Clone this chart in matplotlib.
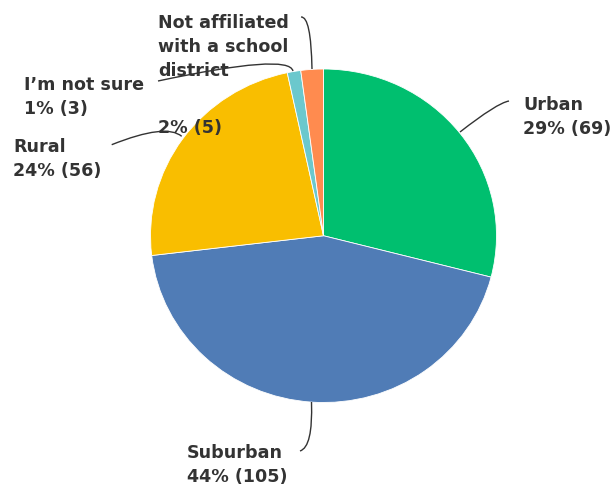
import matplotlib
matplotlib.use("Agg")
import matplotlib.pyplot as plt
from matplotlib.path import Path
from matplotlib.patches import PathPatch

categories = ["Urban", "Suburban", "Rural", "I\u2019m not sure", "Not affiliated\nwith a school\ndistrict"]
counts = [69, 105, 56, 3, 5]
percents = ["29%", "44%", "24%", "1%", "2%"]
colors = ["#00BF6F", "#507CB6", "#F9BE00", "#6BC8CD", "#FF8B4F"]

W, H = 613, 489
fig = plt.figure(figsize=(W / 100, H / 100), dpi=100)

# pie axes (pixel box of the pie in the reference)
x0, x1, y0, y1 = 150.5, 496.5, 70.0, 403.5
axp = fig.add_axes([x0 / W, 1 - y1 / H, (x1 - x0) / W, (y1 - y0) / H])
axp.pie(counts, colors=colors, startangle=90, counterclock=False, radius=1,
        wedgeprops=dict(edgecolor="white", linewidth=0.6))
axp.set_aspect("auto")
axp.set_xlim(-1, 1)
axp.set_ylim(-1, 1)
axp.axis("off")

# overlay axes in pixel coordinates for labels and leader lines
ax = fig.add_axes([0, 0, 1, 1], facecolor="none")
ax.set_xlim(0, W)
ax.set_ylim(H, 0)
ax.axis("off")

font = dict(family=["DejaVu Sans"], fontsize=12.6, fontweight="bold",
            color="#333333", linespacing=1.42)

def label(i):
    return f"{categories[i]}\n{percents[i]} ({counts[i]})"

ax.text(523, 117, label(0), ha="left", va="center", **font)
ax.text(187, 465, label(1), ha="left", va="center", **font)
ax.text(13, 159, label(2), ha="left", va="center", **font)
ax.text(24, 97, label(3), ha="left", va="center", **font)
ax.text(158, 47, categories[4], ha="left", va="center", **font)
ax.text(158, 128, f"{percents[4]} ({counts[4]})", ha="left", va="center", **font)

def leader(pts):
    codes = [Path.MOVETO] + [Path.CURVE3] * (len(pts) - 1)
    ax.add_patch(PathPatch(Path(pts, codes), fill=False, edgecolor="#333333", linewidth=1.0))

leader([(460, 133), (497, 104), (509, 102)])
leader([(311.5, 403), (313, 448), (300, 452)])
leader([(181.7, 137.3), (166, 124), (111.7, 145.7)])
leader([(293, 72), (289, 54), (158, 82)])
leader([(312, 70), (311, 17), (301, 18)])

fig.savefig("out.png", dpi=100)
